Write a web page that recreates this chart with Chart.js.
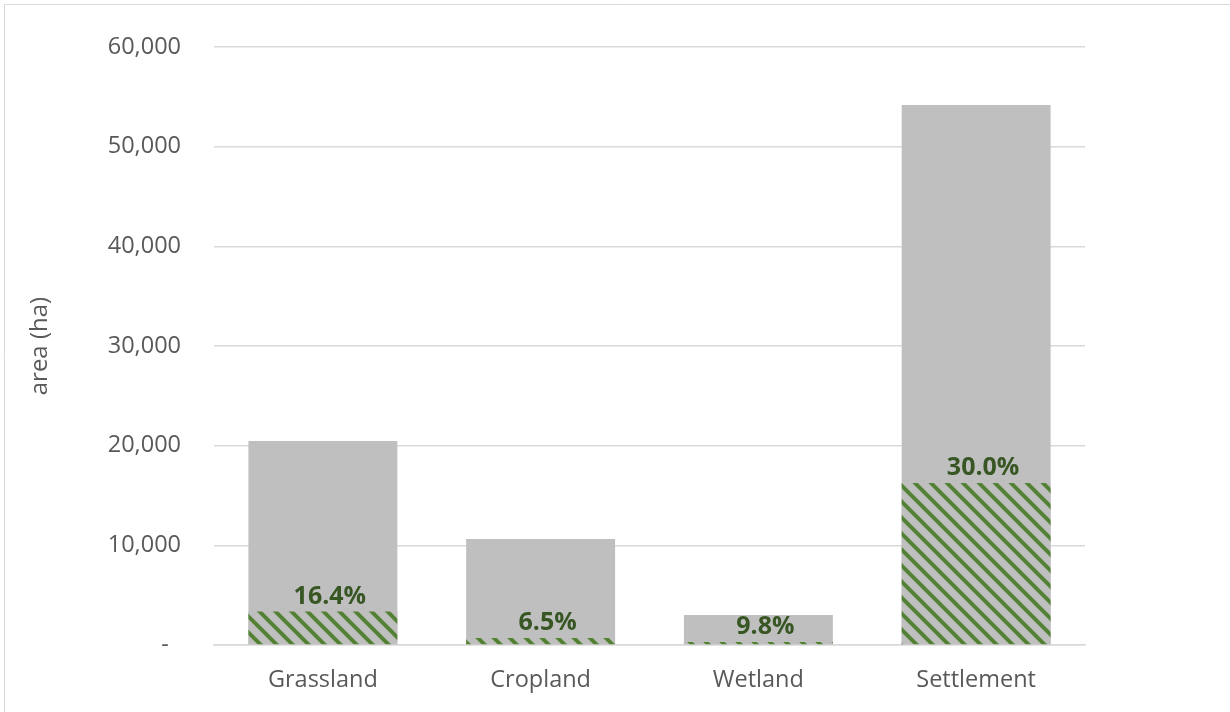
<!DOCTYPE html>
<html>
<head>
<meta charset="utf-8">
<script src="https://cdn.jsdelivr.net/npm/chart.js@4.4.1/dist/chart.umd.min.js"></script>
<style>
  html, body { margin: 0; padding: 0; background: #ffffff; }
  canvas { display: block; }
</style>
</head>
<body>
<canvas id="areaChart" width="1230" height="712"></canvas>
<script>
// data
const categories = ['Grassland', 'Cropland', 'Wetland', 'Settlement'];
const totalArea = [20470, 10640, 3010, 54180];
const coveredArea = [3360, 690, 295, 16250];
const shareLabels = ['16.4%', '6.5%', '9.8%', '30.0%'];
const yTickLabels = ['-  ', '10,000', '20,000', '30,000', '40,000', '50,000', '60,000'];

const FONT = "'Open Sans', sans-serif";
const TEXT_GREY = '#595959';

// diagonal green hatch, like the excel wide downward diagonal
function makeHatch() {
    const size = 16;
    const tile = document.createElement('canvas');
    tile.width = size;
    tile.height = size;
    const c = tile.getContext('2d');
    c.fillStyle = '#bfbfbf';
    c.fillRect(0, 0, size, size);
    c.strokeStyle = '#548235';
    c.lineWidth = 4;
    [-size, 0, size].forEach(k => {
        c.beginPath();
        c.moveTo(k - 2, -2);
        c.lineTo(k + size + 2, size + 2);
        c.stroke();
    });
    return document.getElementById('areaChart').getContext('2d').createPattern(tile, 'repeat');
}

// thin frame seen at the top and left edge
const framePlugin = {
    id: 'frame',
    beforeDraw(chart) {
        const ctx = chart.ctx;
        ctx.save();
        ctx.strokeStyle = '#d9d9d9';
        ctx.lineWidth = 1;
        ctx.beginPath();
        ctx.moveTo(4.5, chart.height + 5);
        ctx.lineTo(4.5, 4.5);
        ctx.lineTo(chart.width + 5, 4.5);
        ctx.stroke();
        ctx.restore();
    }
};

// share labels above the hatched bars
const shareLabelPlugin = {
    id: 'shareLabels',
    afterDatasetsDraw(chart) {
        const ctx = chart.ctx;
        const meta = chart.getDatasetMeta(1);
        ctx.save();
        ctx.font = "bold 25px " + FONT;
        ctx.fillStyle = '#375623';
        ctx.textAlign = 'center';
        ctx.textBaseline = 'alphabetic';
        meta.data.forEach((bar, i) => {
            ctx.fillText(shareLabels[i], bar.x + 7, bar.y - 8);
        });
        ctx.restore();
    }
};

new Chart(document.getElementById('areaChart'), {
    type: 'bar',
    data: {
        labels: categories,
        datasets: [
            {
                label: 'total area',
                data: totalArea,
                backgroundColor: '#bfbfbf',
                grouped: false,
                order: 2
            },
            {
                label: 'covered area',
                data: coveredArea,
                backgroundColor: makeHatch(),
                grouped: false,
                order: 1
            }
        ]
    },
    options: {
        responsive: false,
        animation: false,
        devicePixelRatio: 1,
        categoryPercentage: 0.684,
        barPercentage: 1,
        layout: {
            padding: { left: 0, right: 145, top: 47, bottom: 0 }
        },
        plugins: {
            legend: { display: false },
            tooltip: { enabled: false }
        },
        scales: {
            x: {
                grid: { display: false, drawTicks: false },
                border: { display: true, color: '#d9d9d9', width: 1.5 },
                ticks: {
                    color: TEXT_GREY,
                    font: { family: FONT, size: 23.5 },
                    padding: 21
                },
                afterFit(scale) { scale.height = 67; }
            },
            y: {
                min: 0,
                max: 60000,
                ticks: {
                    stepSize: 10000,
                    color: TEXT_GREY,
                    font: { family: FONT, size: 23.5 },
                    padding: 33,
                    callback: (value, index) => yTickLabels[index]
                },
                grid: { color: '#d9d9d9', lineWidth: 1.5, drawTicks: false },
                border: { display: false },
                title: {
                    display: true,
                    text: 'area (ha)',
                    color: TEXT_GREY,
                    font: { family: FONT, size: 24 },
                    padding: { top: 26, bottom: 0 }
                },
                afterFit(scale) { scale.width = 214; }
            }
        }
    },
    plugins: [framePlugin, shareLabelPlugin]
});
</script>
</body>
</html>
